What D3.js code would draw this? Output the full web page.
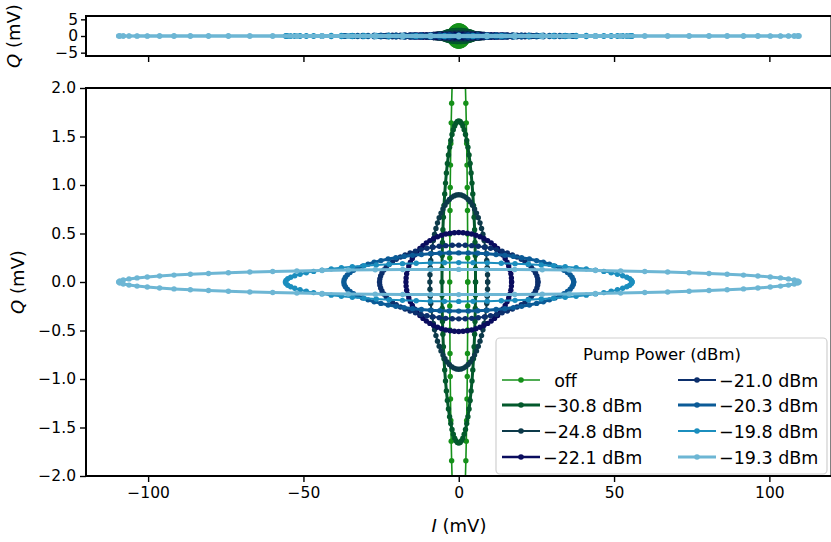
<!DOCTYPE html>
<html>
<head>
<meta charset="utf-8">
<script src="https://cdn.jsdelivr.net/npm/d3@7"></script>
<style>
  body { margin: 0; background: #fff; }
  text { font-family: "DejaVu Sans", sans-serif; }
</style>
</head>
<body>
<svg width="831" height="542"></svg>
<script>
// Values
var pumpLabels = ["  off", "\u221230.8 dBm", "\u221224.8 dBm", "\u221222.1 dBm",
                  "\u221221.0 dBm", "\u221220.3 dBm", "\u221219.8 dBm", "\u221219.3 dBm"];
var ampI = [2.9, 5.4, 9.3, 17.0, 25.5, 37.0, 55.8, 109.5];   // I half-width (mV)
var ampQ = [3.0, 1.66, 0.90, 0.51, 0.38, 0.30, 0.20, 0.13];  // Q half-height (mV)
var colors = ["#15901a", "#03592c", "#0d3a4a", "#0a0c5e", "#0c2f6c", "#0b5b97", "#1b8ebe", "#6db6d4"];
var widths = [1.6, 3, 2, 2.5, 2, 3, 2, 3];
var nSamples = 76;   // points per sweep
var xTicks = [-100, -50, 0, 50, 100];
var qTicksTop = [-5, 0, 5];
var qTicksMain = [-2, -1.5, -1, -0.5, 0, 0.5, 1, 1.5, 2];

var svg = d3.select("svg");

var series = pumpLabels.map(function(lab, k) {
  var pts = d3.range(nSamples + 1).map(function(i) {
    var ph = 2 * Math.PI * i / nSamples;
    return { I: ampI[k] * Math.cos(ph), Q: ampQ[k] * Math.sin(ph) };
  });
  return { label: lab, color: colors[k], width: widths[k], pts: pts };
});

var x = d3.scaleLinear().domain([-120, 120]).range([86, 831.5]);
var yTop = d3.scaleLinear().domain([-6, 6]).range([56, 16]);
var yMain = d3.scaleLinear().domain([-2, 2]).range([476, 88]);

svg.append("clipPath").attr("id", "clipTop")
  .append("rect").attr("x", 86).attr("y", 16).attr("width", 745.5).attr("height", 40);
svg.append("clipPath").attr("id", "clipMain")
  .append("rect").attr("x", 86).attr("y", 88).attr("width", 745.5).attr("height", 388);

function drawPanel(y, clipId, r) {
  var g = svg.append("g").attr("clip-path", "url(#" + clipId + ")");
  var line = d3.line().x(function(d) { return x(d.I) }).y(function(d) { return y(d.Q) });
  series.forEach(function(s) {
    var gs = g.append("g");
    gs.append("path")
      .attr("d", line(s.pts))
      .attr("fill", "none")
      .attr("stroke", s.color)
      .attr("stroke-width", s.width);
    gs.selectAll("circle")
      .data(s.pts)
      .enter()
      .append("circle")
      .attr("cx", function(d) { return x(d.I) })
      .attr("cy", function(d) { return y(d.Q) })
      .attr("r", r)
      .attr("fill", s.color);
  });
}

drawPanel(yTop, "clipTop", 2.7);
drawPanel(yMain, "clipMain", 2.7);

// axes
function styleAxis(g) {
  g.select(".domain").remove();
  g.selectAll(".tick line").attr("stroke", "#000").attr("stroke-width", 1.4);
  g.selectAll(".tick text").attr("fill", "#000").style("font-size", "15.5px");
}

svg.append("g")
  .attr("transform", "translate(0,56)")
  .call(d3.axisBottom(x).tickValues(xTicks).tickSize(6).tickFormat(""))
  .call(styleAxis);
svg.append("g")
  .attr("transform", "translate(86,0)")
  .call(d3.axisLeft(yTop).tickValues(qTicksTop).tickSize(5).tickPadding(3).tickFormat(d3.format("d")))
  .call(styleAxis);

svg.append("g")
  .attr("transform", "translate(0,476)")
  .call(d3.axisBottom(x).tickValues(xTicks).tickSize(6).tickPadding(5).tickFormat(d3.format("d")))
  .call(styleAxis);
svg.append("g")
  .attr("transform", "translate(86,0)")
  .call(d3.axisLeft(yMain).tickValues(qTicksMain).tickSize(6).tickPadding(4).tickFormat(d3.format(".1f")))
  .call(styleAxis);

// frames
[[16, 56], [88, 476]].forEach(function(b) {
  svg.append("rect")
    .attr("x", 86).attr("y", b[0])
    .attr("width", 745.5).attr("height", b[1] - b[0])
    .attr("fill", "none").attr("stroke", "#000").attr("stroke-width", 2);
});

// axis labels
function qLabel(cx, cy) {
  var t = svg.append("text")
    .attr("transform", "translate(" + cx + "," + cy + ") rotate(-90)")
    .attr("text-anchor", "middle")
    .style("font-size", "18px");
  t.append("tspan").style("font-style", "italic").text("Q");
  t.append("tspan").text(" (mV)");
}
qLabel(20, 36);
qLabel(24, 282);

var xl = svg.append("text")
  .attr("x", 459).attr("y", 532)
  .attr("text-anchor", "middle")
  .style("font-size", "18px");
xl.append("tspan").style("font-style", "italic").text("I");
xl.append("tspan").text(" (mV)");

// legend
var leg = svg.append("g");
leg.append("rect")
  .attr("x", 496).attr("y", 338).attr("width", 331).attr("height", 136).attr("rx", 4)
  .attr("fill", "#fff").attr("fill-opacity", 0.85)
  .attr("stroke", "#d0d0d0").attr("stroke-width", 1.2);
leg.append("text")
  .attr("x", 662).attr("y", 360)
  .attr("text-anchor", "middle")
  .style("font-size", "16.5px")
  .text("Pump Power (dBm)");

var rowY = [380, 405, 431, 457];
series.forEach(function(s, k) {
  var col = Math.floor(k / 4), row = k % 4;
  var x0 = col === 0 ? 502 : 678;
  var y0 = rowY[row];
  leg.append("line")
    .attr("x1", x0).attr("x2", x0 + 38).attr("y1", y0).attr("y2", y0)
    .attr("stroke", s.color).attr("stroke-width", s.width);
  leg.append("circle")
    .attr("cx", x0 + 19).attr("cy", y0).attr("r", 2.8).attr("fill", s.color);
  leg.append("text")
    .attr("x", x0 + 41).attr("y", y0 + 6.5)
    .style("font-size", "17.5px")
    .style("white-space", "pre")
    .text(s.label);
});
</script>
</body>
</html>
